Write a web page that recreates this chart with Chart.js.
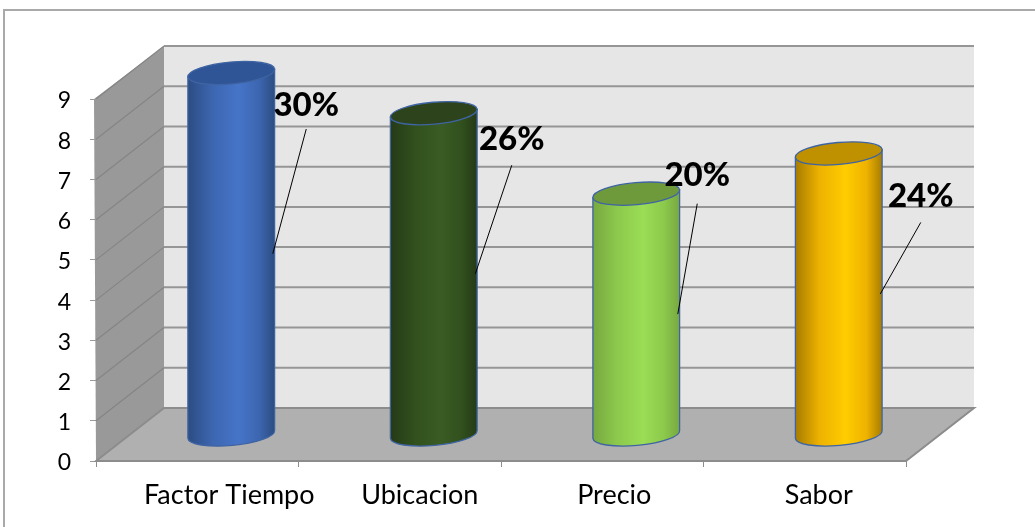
<!DOCTYPE html>
<html lang="es">
<head>
  <meta charset="UTF-8" />
  <title>Factores</title>
  <script src="https://cdn.jsdelivr.net/npm/chart.js"></script>
  <style>
    html, body { margin: 0; padding: 0; background: #fff; }
    #wrap { position: relative; width: 1035px; height: 527px; overflow: hidden; }
    #frame { position: absolute; left: 3px; top: 9px; width: 1040px; height: 530px;
      border-left: 2px solid #a9a9a9; border-top: 2px solid #a9a9a9; }
    canvas { position: absolute; left: 0; top: 0; }
  </style>
</head>
<body>
  <div id="wrap">
    <canvas id="chart" width="1035" height="527"></canvas>
    <div id="frame"></div>
  </div>

  <script>
    const categories = ['Factor Tiempo', 'Ubicacion', 'Precio', 'Sabor'];
    const values = [9, 8, 6, 7];
    const percentLabels = ['30%', '26%', '20%', '24%'];
    const yTicks = [0, 1, 2, 3, 4, 5, 6, 7, 8, 9];

    // fake 3d depth of the box, and where the cylinders sit in it
    const DEPTH_X = 68, DEPTH_Y = 53;
    const MID_X = 34, MID_Y = 26;
    const TILT = -0.09;
    const FONT = 'Lato, sans-serif';

    // edge, mid, light, top face
    const cylColors = [
      ['#2c4c82', '#3c66b0', '#4674c8', '#2f5597'],
      ['#253a17', '#31501d', '#3a5c24', '#2c431b'],
      ['#77a840', '#8cc94c', '#9bdd55', '#6f9a3c'],
      ['#a67c00', '#eeb200', '#ffcc00', '#bf9000']
    ];
    const calloutPos = [[75, 32, 24], [78, 26, 26], [61, -18, 28], [82, 43, 26]];
    const xLabelShift = [32, 20, 12, 14];

    const box3d = {
      id: 'box3d',
      beforeDatasetsDraw(chart) {
        const { ctx, chartArea: a, scales: { y } } = chart;
        const l = a.left, r = a.right, t = a.top, b = a.bottom;
        ctx.save();
        // back wall
        ctx.fillStyle = '#e6e6e6';
        ctx.fillRect(l + DEPTH_X, t - DEPTH_Y, r - l, b - t);
        // left wall
        ctx.fillStyle = '#999999';
        ctx.beginPath();
        ctx.moveTo(l, b);
        ctx.lineTo(l + DEPTH_X, b - DEPTH_Y);
        ctx.lineTo(l + DEPTH_X, t - DEPTH_Y);
        ctx.lineTo(l - 2, t);
        ctx.closePath();
        ctx.fill();
        // gridlines run along both walls
        yTicks.forEach(v => {
          const py = y.getPixelForValue(v);
          if (v > 0) {
            ctx.strokeStyle = '#858585';
            ctx.lineWidth = 1.2;
            ctx.beginPath();
            ctx.moveTo(l, py);
            ctx.lineTo(l + DEPTH_X, py - DEPTH_Y);
            ctx.stroke();
            ctx.strokeStyle = '#969696';
            ctx.lineWidth = 2;
            ctx.beginPath();
            ctx.moveTo(l + DEPTH_X, py - DEPTH_Y);
            ctx.lineTo(r + DEPTH_X, py - DEPTH_Y);
            ctx.stroke();
          }
        });
        // floor
        ctx.fillStyle = '#b0b0b0';
        ctx.beginPath();
        ctx.moveTo(l, b);
        ctx.lineTo(l + DEPTH_X, b - DEPTH_Y);
        ctx.lineTo(r + DEPTH_X, b - DEPTH_Y);
        ctx.lineTo(r, b);
        ctx.closePath();
        ctx.fill();
        ctx.strokeStyle = '#8c8c8c';
        ctx.lineWidth = 2;
        ctx.stroke();
        ctx.restore();
      },
      afterDatasetsDraw(chart) {
        const { ctx, scales: { x } } = chart;
        const bars = chart.getDatasetMeta(0).data;
        bars.forEach((bar, i) => {
          const cx = bar.x + MID_X, w = bar.width / 2, rb = 11;
          const top = bar.y - MID_Y, base = bar.base - MID_Y;
          const dx = w * Math.cos(TILT), dy = w * Math.sin(TILT);
          const c = cylColors[i];
          const g = ctx.createLinearGradient(cx - w, 0, cx + w, 0);
          g.addColorStop(0, c[0]);
          g.addColorStop(0.28, c[1]);
          g.addColorStop(0.58, c[2]);
          g.addColorStop(0.82, c[1]);
          g.addColorStop(1, c[0]);
          ctx.save();
          ctx.strokeStyle = '#3f64a3';
          ctx.lineWidth = 1.3;
          ctx.fillStyle = g;
          ctx.beginPath();
          ctx.moveTo(cx - dx, top - dy);
          ctx.lineTo(cx - dx, base - dy);
          ctx.ellipse(cx, base, w, rb, TILT, Math.PI, 0, true);
          ctx.lineTo(cx + dx, top + dy);
          ctx.closePath();
          ctx.fill();
          ctx.stroke();
          ctx.fillStyle = c[3];
          ctx.beginPath();
          ctx.ellipse(cx, top, w, rb, TILT, 0, Math.PI * 2);
          ctx.fill();
          ctx.stroke();
          ctx.restore();
        });
        // percent callouts, leader goes to the middle of the cylinder side
        bars.forEach((bar, i) => {
          const cx = bar.x + MID_X, w = bar.width / 2;
          const top = bar.y - MID_Y, base = bar.base - MID_Y;
          const p = calloutPos[i];
          const lx = cx + p[0], ly = top + p[1];
          ctx.save();
          ctx.strokeStyle = '#000';
          ctx.lineWidth = 1;
          ctx.beginPath();
          ctx.moveTo(cx + w - 2, (top + base) / 2);
          ctx.lineTo(lx, ly + p[2]);
          ctx.stroke();
          ctx.fillStyle = '#000';
          ctx.font = '900 33px ' + FONT;
          ctx.textAlign = 'center';
          ctx.textBaseline = 'middle';
          ctx.fillText(percentLabels[i], lx, ly);
          ctx.restore();
        });
        // category labels are not centred on the ticks in the original
        ctx.save();
        ctx.fillStyle = '#000';
        ctx.font = '27px ' + FONT;
        ctx.textAlign = 'center';
        ctx.textBaseline = 'middle';
        categories.forEach((name, i) => {
          ctx.fillText(name, x.getPixelForTick(i) + xLabelShift[i], 495);
        });
        ctx.restore();
      }
    };

    new Chart(document.getElementById('chart').getContext('2d'), {
      type: 'bar',
      data: {
        labels: categories,
        datasets: [{ data: values, backgroundColor: 'transparent', borderWidth: 0, barPercentage: 0.43, categoryPercentage: 1 }]
      },
      options: {
        responsive: false,
        animation: false,
        layout: { padding: { top: 99, right: 129, left: 0, bottom: 0 } },
        plugins: { legend: { display: false }, tooltip: { enabled: false } },
        scales: {
          x: {
            grid: { drawOnChartArea: false, drawTicks: true, tickLength: 6, color: '#8c8c8c', offset: true },
            border: { display: false },
            ticks: { display: false },
            afterFit(s) { s.height = 66; }
          },
          y: {
            min: 0,
            max: 9,
            grid: { drawOnChartArea: false, drawTicks: true, tickLength: 6, color: '#9a9a9a' },
            border: { display: false },
            ticks: { stepSize: 1, color: '#000', padding: 19, labelOffset: 2, font: { family: FONT, size: 23 } },
            afterFit(s) { s.width = 96; }
          }
        }
      },
      plugins: [box3d]
    });
  </script>
</body>
</html>
